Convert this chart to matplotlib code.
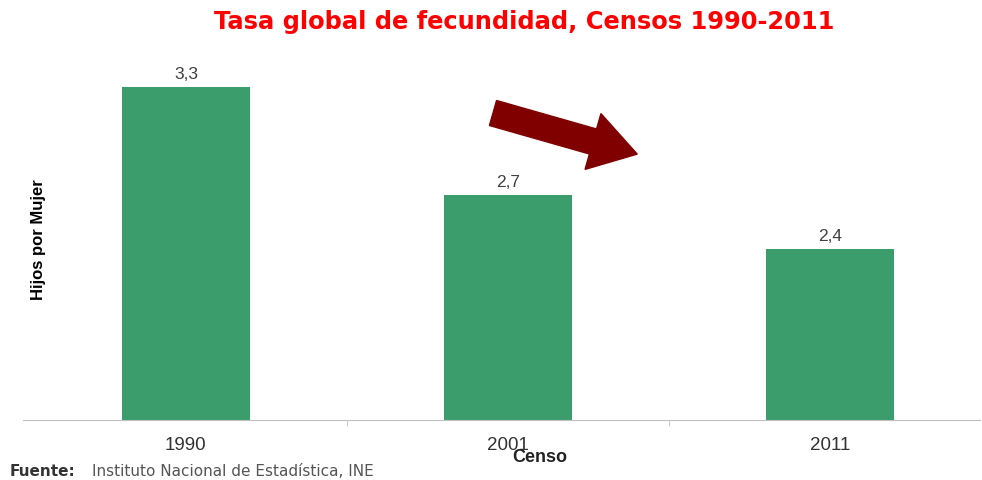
import matplotlib.pyplot as plt
from matplotlib.patches import FancyArrow

# Datos
censos = ['1990', '2001', '2011']
tgf = [3.3, 2.7, 2.4]
etiquetas = ['3,3', '2,7', '2,4']

fig = plt.figure(figsize=(9.82, 4.8), dpi=100)
ax = fig.add_axes([23/982, 60/480, 957/982, 360/480])

x = range(len(censos))
ax.bar(x, tgf, width=0.4, color='#3b9c6c', zorder=2)

for i, v in enumerate(tgf):
    ax.text(i, v + 0.03, etiquetas[i], ha='center', va='bottom',
            fontsize=12.5, color='#404040', family='Liberation Sans')

ax.set_xlim(-0.506, 2.466)
ax.set_ylim(1.45, 3.45)

for s in ['top', 'right', 'left']:
    ax.spines[s].set_visible(False)
ax.spines['bottom'].set_color('#c0c0c0')
ax.set_yticks([])
ax.set_xticks(list(x))
ax.set_xticklabels(censos, fontsize=13.5, color='#333333', family='Liberation Sans')
ax.tick_params(axis='x', length=0, pad=12)
ax.set_xticks([0.5, 1.5], minor=True)
ax.tick_params(axis='x', which='minor', length=4, color='#c0c0c0')

# Titulo y etiquetas
fig.text(0.534, 1 - 22/480, 'Tasa global de fecundidad, Censos 1990-2011',
         ha='center', va='center', fontsize=17.4, fontweight='bold',
         color='#ff0000', family='DejaVu Sans')
fig.text(38/982, 1 - 240/480, 'Hijos por Mujer', rotation=90, ha='center',
         va='center', fontsize=12, fontweight='semibold', color='black',
         family='Liberation Sans')
fig.text(540/982, 1 - 457/480, 'Censo', ha='center', va='center',
         fontsize=13, fontweight='bold', color='#222222', family='Liberation Sans')
fig.text(10/982, 1 - 472/480, 'Fuente:', ha='left', va='center',
         fontsize=11, fontweight='bold', color='#333333', family='DejaVu Sans')
fig.text(92/982, 1 - 472/480, 'Instituto Nacional de Estadística, INE', ha='left',
         va='center', fontsize=11, color='#555555', family='DejaVu Sans')

# Flecha
flecha = FancyArrow(4.93, 3.67, 1.0, -0.285, width=0.26, head_width=0.58,
                    head_length=0.46, length_includes_head=False,
                    color='#800000', transform=fig.dpi_scale_trans)
fig.patches.append(flecha)

fig.savefig('out.png', dpi=100)
